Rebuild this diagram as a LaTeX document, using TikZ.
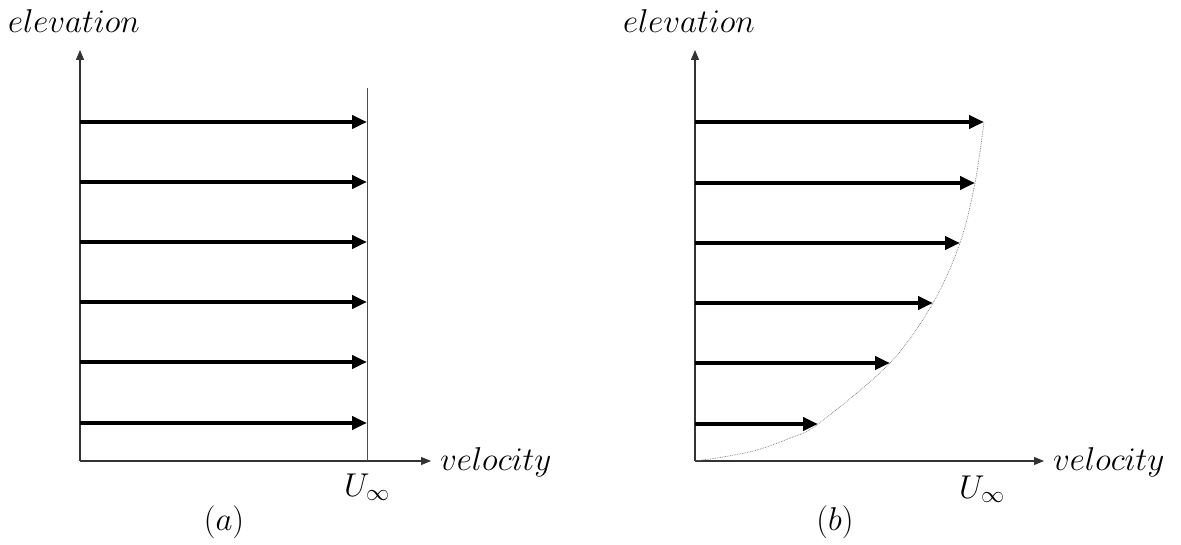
\RequirePackage{fix-cm}
\documentclass[tikz,border=0pt]{standalone}
\usetikzlibrary{arrows.meta}
\begin{document}
\begin{tikzpicture}[x=1pt,y=-1pt,
  axis/.style={line width=1.1pt, draw=black!80, -{Triangle[length=10pt,width=8pt]}},
  flow/.style={line width=4pt, -{Triangle[length=15pt,width=13pt]}},
  lbl/.style={inner sep=0pt, font=\fontsize{33}{38}\selectfont},
]
\useasboundingbox (0,0) rectangle (1181,545);
% ---------- (a) ----------
\coordinate (oa) at (80,461);
\coordinate (ya) at (80,50);
\coordinate (xa) at (431,461);
\draw[axis] (oa) -- (ya);
\draw[axis] (oa) -- (xa);
\coordinate (ua) at (367,461);
\coordinate (ut) at (367,88);
\draw[line width=0.6pt, draw=black!70] (ua) -- (ut);
\foreach \y [count=\i] in {122,182,242,302,362,423}{
  \coordinate (as\i) at (80,\y);
  \coordinate (ae\i) at (367,\y);
  \draw[flow] (as\i) -- (ae\i);
}
\node[lbl, anchor=base west] (elA) at (8,33) {$elevation$};
\node[lbl, anchor=base west] (veA) at (440,470) {$velocity$};
\node[lbl, anchor=base west] (uA) at (344,496) {$U_\infty$};
\node[lbl] (capA) at (224,522) {$(a)$};
% ---------- (b) ----------
\coordinate (ob) at (695,461);
\coordinate (yb) at (695,50);
\coordinate (xb) at (1044,461);
\draw[axis] (ob) -- (yb);
\draw[axis] (ob) -- (xb);
\coordinate (be1) at (984,122);
\coordinate (be2) at (975,183);
\coordinate (be3) at (960,243);
\coordinate (be4) at (933,303);
\coordinate (be5) at (890,363);
\coordinate (be6) at (818,424);
\foreach \y [count=\i] in {122,183,243,303,363,424}{
  \coordinate (bs\i) at (695,\y);
  \draw[flow] (bs\i) -- (be\i);
}
\draw[densely dotted, line width=0.7pt, draw=black!55]
  plot[smooth, tension=0.55] coordinates {(695,461) (723,457) (757,450) (790,438) (818,424) (890,363) (933,303) (960,243) (975,183) (984,122)};
\node[lbl, anchor=base west] (elB) at (623,33) {$elevation$};
\node[lbl, anchor=base west] (veB) at (1053,470) {$velocity$};
\node[lbl, anchor=base west] (uB) at (959,498) {$U_\infty$};
\node[lbl] (capB) at (835,522) {$(b)$};
\end{tikzpicture}
\end{document}
